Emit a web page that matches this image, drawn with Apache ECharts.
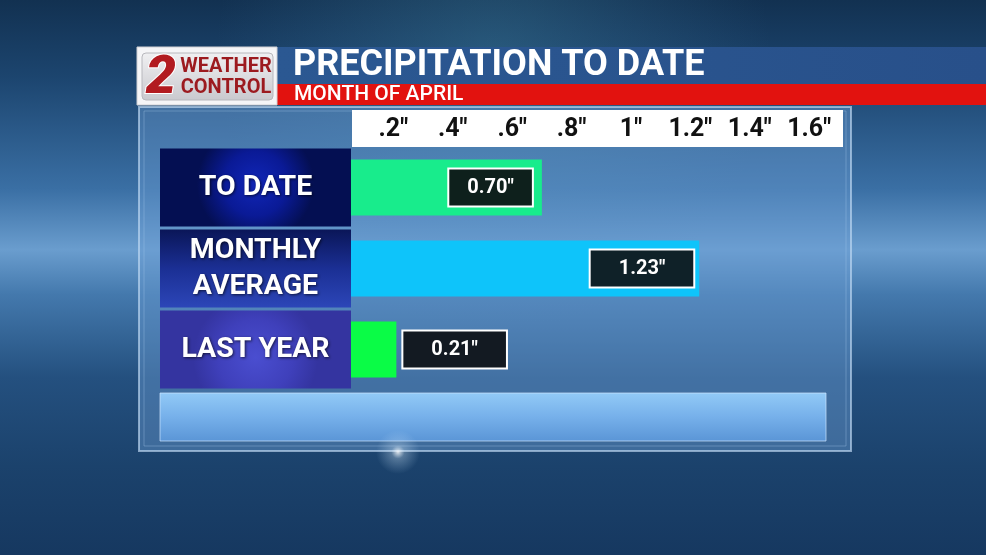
<!DOCTYPE html>
<html><head><meta charset="utf-8">
<script src="https://cdn.jsdelivr.net/npm/echarts@6/dist/echarts.min.js"></script>
<style>html,body{margin:0;padding:0;background:#163860}#chart{width:986px;height:555px}</style>
</head><body><div id="chart"></div>
<script>
// ---- data ----
const categories = ['TO DATE', 'MONTHLY\nAVERAGE', 'LAST YEAR'];
const values = [0.70, 1.23, 0.21];
const tickValues = [0.2, 0.4, 0.6, 0.8, 1, 1.2, 1.4, 1.6];
const titleText = 'PRECIPITATION TO DATE';
const subtitleText = 'MONTH OF APRIL';
const logoLine1 = 'WEATHER';
const logoLine2 = 'CONTROL';
const logoNumber = '2';

// ---- styles ----
const FONT = 'Roboto, "DejaVu Sans", sans-serif';
const barColors = ['#18ec8c', '#0ec4fa', '#0afc46'];
const valueBoxFills = ['#0e201c', '#0f2128', '#131a22'];
const valueLabelPlace = [
  { position: 'insideRight', distance: 10, padX: 18 },
  { position: 'insideRight', distance: 6, padX: 28 },
  { position: 'right', distance: 7, padX: 28 }
];
const G = echarts.graphic;
const catBackgrounds = [
  new G.RadialGradient(0.5, 0.45, 0.75, [
    { offset: 0, color: '#1126b8' }, { offset: 0.55, color: '#0a1a96' }, { offset: 1, color: '#040f52' }]),
  new G.LinearGradient(0, 0, 0, 1, [
    { offset: 0, color: '#0a1658' }, { offset: 0.5, color: '#1b2f94' }, { offset: 1, color: '#2c46b8' }]),
  new G.RadialGradient(0.5, 0.6, 0.8, [
    { offset: 0, color: '#4a4ed0' }, { offset: 0.6, color: '#3f40bb' }, { offset: 1, color: '#3434a0' }])
];
const catLayout = [
  { lineHeight: 74, padding: [4, 0, 0, 0] },
  { lineHeight: 36, padding: [5, 0, 1, 0] },
  { lineHeight: 72, padding: [6, 0, 0, 0] }
];

const chart = echarts.init(document.getElementById('chart'), null, { renderer: 'canvas' });

const yData = categories.map((c, i) => ({
  value: c,
  textStyle: {
    align: 'center',
    width: 191,
    backgroundColor: catBackgrounds[i],
    lineHeight: catLayout[i].lineHeight,
    padding: catLayout[i].padding
  }
}));

const barData = values.map((v, i) => ({
  value: v,
  itemStyle: { color: barColors[i] },
  label: {
    position: valueLabelPlace[i].position,
    distance: valueLabelPlace[i].distance,
    backgroundColor: valueBoxFills[i],
    padding: [8, valueLabelPlace[i].padX]
  }
}));

const option = {
  animation: false,
  backgroundColor: 'transparent',
  graphic: [
    { type: 'rect', shape: { x: 0, y: 0, width: 986, height: 555 }, silent: true,
      style: { fill: new G.LinearGradient(0, 0, 0, 1, [
        { offset: 0, color: '#123151' }, { offset: 0.14, color: '#1c456f' },
        { offset: 0.34, color: '#3a6fa4' }, { offset: 0.45, color: '#6a9dce' },
        { offset: 0.53, color: '#4479ad' }, { offset: 0.68, color: '#24507f' },
        { offset: 0.84, color: '#1b426c' }, { offset: 1, color: '#163860' }]) } },
    { type: 'rect', shape: { x: 0, y: 0, width: 986, height: 555 }, silent: true,
      style: { fill: new G.RadialGradient(0.5, 0.1, 0.5, [
        { offset: 0, color: 'rgba(70,140,170,0.35)' }, { offset: 1, color: 'rgba(70,130,170,0)' }]) } },
    // panel
    { type: 'rect', shape: { x: 139, y: 107, width: 712, height: 344 }, silent: true,
      style: { fill: 'rgba(110,160,215,0.42)', stroke: 'rgba(195,220,245,0.65)', lineWidth: 2 } },
    { type: 'rect', shape: { x: 144, y: 111, width: 702, height: 335 }, silent: true,
      style: { fill: 'rgba(0,0,0,0)', stroke: 'rgba(170,200,235,0.35)', lineWidth: 1 } },
    // bottom band
    { type: 'rect', shape: { x: 160, y: 393, width: 666, height: 48 }, silent: true,
      style: { fill: new G.LinearGradient(0, 0, 0, 1, [
        { offset: 0, color: '#92caf7' }, { offset: 0.5, color: '#76b0ea' }, { offset: 1, color: '#5a95d6' }]),
        stroke: 'rgba(205,230,255,0.7)', lineWidth: 1 } },
    // axis strip
    { type: 'rect', shape: { x: 352, y: 110, width: 491, height: 37 }, silent: true,
      style: { fill: '#ffffff' } },
    // header bars
    { type: 'rect', shape: { x: 277, y: 47, width: 709, height: 37 }, silent: true,
      style: { fill: new G.LinearGradient(0, 0, 1, 0, [
        { offset: 0, color: '#2b5892' }, { offset: 1, color: '#28508a' }]) } },
    { type: 'rect', shape: { x: 277, y: 84, width: 709, height: 21 }, silent: true,
      style: { fill: '#e2120f' } },
    { type: 'text', x: 293, y: 66, silent: true,
      style: { text: titleText, fill: '#ffffff', font: 'bold 36px ' + FONT, textVerticalAlign: 'middle' } },
    { type: 'text', x: 294, y: 95, silent: true,
      style: { text: subtitleText, fill: '#ffffff', font: '500 21px ' + FONT, textVerticalAlign: 'middle' } },
    // logo
    { type: 'rect', shape: { x: 137, y: 47, width: 140, height: 58 }, silent: true,
      style: { fill: '#f5f5f7', stroke: '#d0d0d4', lineWidth: 1 } },
    { type: 'rect', shape: { x: 142, y: 53, width: 131, height: 47, r: 4 }, silent: true,
      style: { fill: new G.LinearGradient(0, 0, 0, 1, [
        { offset: 0, color: '#f0f0f2' }, { offset: 1, color: '#c9c9ce' }]), stroke: '#b8b8bd', lineWidth: 1 } },
    { type: 'text', x: 161, y: 79, silent: true,
      style: { text: logoNumber, fill: '#b21b20', stroke: '#ffffff', lineWidth: 2,
        font: 'italic 900 54px ' + FONT, textAlign: 'center', textVerticalAlign: 'middle' } },
    { type: 'text', x: 226, y: 67, silent: true,
      style: { text: logoLine1, fill: '#9c1a1f', font: 'bold 20px ' + FONT, textAlign: 'center', textVerticalAlign: 'middle' } },
    { type: 'text', x: 226, y: 88, silent: true,
      style: { text: logoLine2, fill: '#9c1a1f', font: 'bold 20px ' + FONT, textAlign: 'center', textVerticalAlign: 'middle' } },
    // bottom glare
    { type: 'circle', shape: { cx: 398, cy: 452, r: 22 }, silent: true,
      style: { fill: new G.RadialGradient(0.5, 0.5, 0.5, [
        { offset: 0, color: 'rgba(255,255,255,0.85)' }, { offset: 0.3, color: 'rgba(220,240,255,0.3)' },
        { offset: 1, color: 'rgba(200,230,255,0)' }]) } }
  ],
  grid: { left: 334, right: 143, top: 147, height: 243, show: false },
  xAxis: {
    type: 'value', position: 'top', min: 0, max: 1.714, z: 10,
    axisLine: { show: false }, axisTick: { show: false }, splitLine: { show: false },
    axisLabel: {
      customValues: tickValues,
      margin: 17, verticalAlign: 'middle',
      color: '#111111', fontSize: 25, fontWeight: 'bold', fontFamily: FONT,
      formatter: v => (v < 1 ? String(v).slice(1) : String(v)) + '"'
    }
  },
  yAxis: {
    type: 'category', inverse: true, data: yData, z: 10,
    axisLine: { show: false }, axisTick: { show: false }, splitLine: { show: false },
    axisLabel: {
      interval: 0, margin: 78.5, align: 'center', width: 191,
      color: '#ffffff', fontSize: 28.5, fontWeight: 'bold', fontFamily: FONT,
      textShadowColor: 'rgba(0,0,0,0.65)', textShadowBlur: 3, textShadowOffsetX: 1, textShadowOffsetY: 1
    }
  },
  series: [{
    type: 'bar', z: 5, barWidth: 56, clip: true,
    data: barData,
    label: {
      show: true, color: '#ffffff', fontSize: 20, fontWeight: 'bold', fontFamily: FONT,
      lineHeight: 20, borderColor: '#ffffff', borderWidth: 2,
      formatter: p => p.value.toFixed(2) + '"'
    }
  }]
};
chart.setOption(option);
</script>
</body></html>
